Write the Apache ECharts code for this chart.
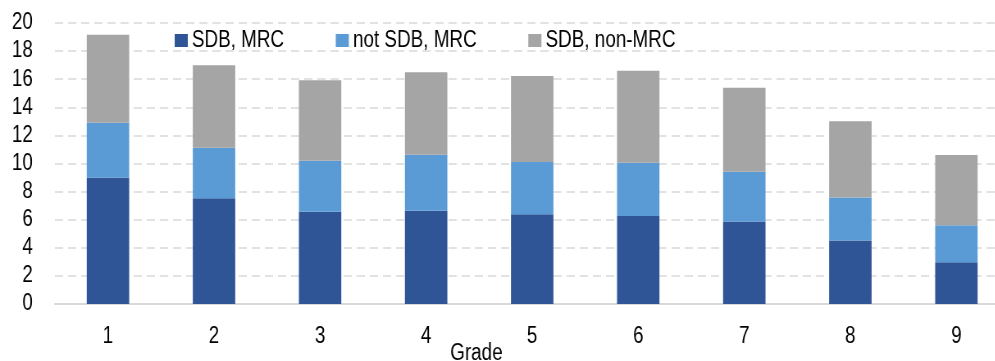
<!DOCTYPE html>
<html>
<head>
<meta charset="utf-8">
<script src="https://cdn.jsdelivr.net/npm/echarts@6/dist/echarts.min.js"></script>
<style>
html,body{margin:0;padding:0;background:#fff;overflow:hidden;width:995px;height:361px}
#c{width:1240px;height:361px;transform:scaleX(0.82);transform-origin:0 0}
</style>
</head>
<body>
<div id="c"></div>
<script>
const categories = ['1','2','3','4','5','6','7','8','9'];
const sdbMrc = [8.98, 7.53, 6.56, 6.63, 6.39, 6.27, 5.87, 4.52, 2.97];
const notSdbMrc = [3.92, 3.59, 3.63, 3.99, 3.71, 3.78, 3.54, 3.06, 2.64];
const sdbNonMrc = [6.27, 5.87, 5.73, 5.87, 6.13, 6.56, 5.99, 5.42, 4.99];
const seriesNames = ['SDB, MRC', 'not SDB, MRC', 'SDB, non-MRC'];
const xTitle = 'Grade';

const chart = echarts.init(document.getElementById('c'), null, {renderer: 'canvas'});
const font = '"Liberation Sans", Arial, sans-serif';
const mk = (name, data, color) => ({
  name, type: 'bar', stack: 'total', data, barWidth: '40%',
  itemStyle: {color}, animation: false
});
chart.setOption({
  animation: false,
  textStyle: {fontFamily: font},
  grid: {left: 67, top: 23, right: 9, bottom: 57, containLabel: false},
  legend: {
    left: 208, top: 24, itemWidth: 16, itemHeight: 13, itemGap: 63, icon: 'rect',
    textStyle: {fontSize: 23, color: '#000', fontFamily: font},
    data: seriesNames
  },
  xAxis: {
    type: 'category', data: categories,
    axisLine: {lineStyle: {color: '#d9d9d9', width: 2}},
    axisTick: {show: false},
    axisLabel: {fontSize: 23, color: '#000', margin: 21, fontFamily: font}
  },
  yAxis: {
    type: 'value', min: 0, max: 20, interval: 2,
    axisLine: {show: false}, axisTick: {show: false},
    axisLabel: {fontSize: 23, color: '#000', margin: 27, fontFamily: font},
    splitLine: {lineStyle: {color: '#d9d9d9', type: [10, 6], width: 1.5}}
  },
  graphic: [{
    type: 'text', left: 549, top: 342,
    style: {text: xTitle, fontSize: 23, fill: '#000', fontFamily: font}
  }],
  series: [
    mk(seriesNames[0], sdbMrc, '#2F5597'),
    mk(seriesNames[1], notSdbMrc, '#5B9BD5'),
    mk(seriesNames[2], sdbNonMrc, '#A5A5A5')
  ]
});
</script>
</body>
</html>
